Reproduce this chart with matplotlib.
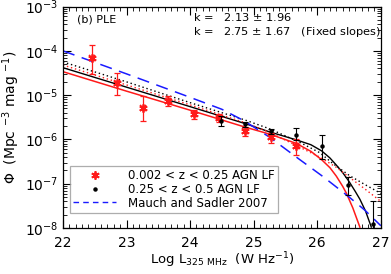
import numpy as np
import matplotlib
matplotlib.use("Agg")
import matplotlib.pyplot as plt
from matplotlib.lines import Line2D
from matplotlib.ticker import MultipleLocator, LogLocator, NullFormatter

# 0.002 < z < 0.25 AGN LF (log values)
lum_low = [22.45, 22.85, 23.26, 23.66, 24.06, 24.46, 24.87, 25.27, 25.67]
phi_low = [-4.17, -4.73, -5.28, -5.14, -5.43, -5.51, -5.81, -5.95, -6.15]
phi_low_lo = [-4.52, -4.99, -5.58, -5.25, -5.53, -5.60, -5.92, -6.07, -6.35]
phi_low_hi = [-3.87, -4.50, -5.03, -5.01, -5.34, -5.42, -5.72, -5.86, -5.98]

# 0.25 < z < 0.5 AGN LF (log values)
lum_high = [24.48, 24.87, 25.27, 25.67, 26.07, 26.48, 26.87]
phi_high = [-5.58, -5.66, -5.81, -5.90, -6.16, -7.04, -7.91]
phi_high_lo = [-5.70, -5.72, -5.87, -6.01, -6.44, -7.26, -8.50]
phi_high_hi = [-5.47, -5.60, -5.76, -5.75, -5.89, -6.85, -7.40]

# fitted curves (log phi)
fit_low_x = [22.0, 23.0, 24.0, 24.86, 25.25, 25.67, 25.9, 26.07, 26.2, 26.30, 26.40, 26.46, 26.56, 26.67]
fit_low_y = [-4.47, -4.91, -5.34, -5.72, -5.88, -6.09, -6.27, -6.46, -6.64, -6.83, -7.06, -7.22, -7.55, -7.98]
fit_high_x = [22.0, 23.0, 24.0, 24.86, 25.25, 25.67, 25.9, 26.07, 26.2, 26.30, 26.40, 26.50, 26.60, 26.67, 26.76, 26.85]
fit_high_y = [-4.38, -4.82, -5.26, -5.64, -5.83, -6.01, -6.12, -6.26, -6.42, -6.58, -6.75, -6.95, -7.18, -7.35, -7.62, -7.98]
fix_low_x = [22.0, 23.0, 24.0, 24.86, 25.25, 25.73, 26.04, 26.3, 26.51, 26.75, 27.0]
fix_low_y = [-4.32, -4.77, -5.22, -5.62, -5.84, -6.18, -6.40, -6.63, -6.86, -7.12, -7.40]
fix_high_x = [22.0, 23.0, 24.0, 24.86, 25.25, 25.73, 26.04, 26.25, 26.51, 26.75, 27.0]
fix_high_y = [-4.25, -4.70, -5.17, -5.56, -5.76, -6.07, -6.30, -6.55, -6.82, -7.02, -7.22]
ms07_x = [22.0, 23.0, 24.0, 24.5, 24.85, 25.25, 25.7, 26.1, 26.5, 26.75, 27.0]
ms07_y = [-4.00, -4.52, -5.05, -5.32, -5.58, -5.95, -6.43, -6.85, -7.30, -7.60, -7.95]

RED = '#ff1a1a'
BLUE = '#1a1aff'

plt.rcParams['font.family'] = ['DejaVu Sans']

fig = plt.figure(figsize=(3.91, 2.74), dpi=100)
ax = fig.add_axes([0.161, 0.168, 0.813, 0.808])

def p(v):
    return 10.0 ** np.asarray(v)

# curves
ax.plot(fit_low_x, p(fit_low_y), color=RED, lw=1.1)
ax.plot(fit_high_x, p(fit_high_y), color='black', lw=1.0)
ax.plot(fix_low_x, p(fix_low_y), color=RED, lw=1.0, ls=(0, (1, 2)))
ax.plot(fix_high_x, p(fix_high_y), color='black', lw=1.0, ls=(0, (1, 2)))
ax.plot(ms07_x, p(ms07_y), color=BLUE, lw=1.1, ls=(0, (8, 5)))

# data points
y = p(phi_low)
ax.errorbar(lum_low, y, yerr=[y - p(phi_low_lo), p(phi_low_hi) - y],
            fmt='none', ecolor=RED, elinewidth=0.9, capsize=2.5, capthick=0.9)
ax.plot(lum_low, y, ls='none', marker=(6, 2, 0), ms=6, mew=1.3, color=RED)
ax.plot(lum_low, y, ls='none', marker='x', ms=4, mew=1.2, color=RED)

y = p(phi_high)
ax.errorbar(lum_high, y, yerr=[y - p(phi_high_lo), p(phi_high_hi) - y],
            fmt='o', color='black', ms=2.2, ecolor='black', elinewidth=0.8,
            capsize=2.5, capthick=0.8)

ax.set_xlim(22, 27)
ax.set_yscale('log')
ax.set_ylim(1e-8, 1e-3)
ax.xaxis.set_major_locator(MultipleLocator(1))
ax.xaxis.set_minor_locator(MultipleLocator(0.1))
ax.yaxis.set_major_locator(LogLocator(base=10, numticks=10))
ax.yaxis.set_minor_locator(LogLocator(base=10, subs=np.arange(2, 10), numticks=10))
ax.yaxis.set_minor_formatter(NullFormatter())
ax.tick_params(which='both', direction='in', top=True, right=True, labelsize=10)
ax.tick_params(which='major', length=6, width=0.8)
ax.tick_params(which='minor', length=3, width=0.6)
ax.tick_params(axis='x', pad=6)
for s in ax.spines.values():
    s.set_linewidth(0.9)

ax.set_xlabel(r'Log L$_{\rm 325\ MHz}$  (W Hz$^{-1}$)', fontsize=9.5, labelpad=0)
ax.set_ylabel(r'$\Phi$  (Mpc $^{-3}$ mag $^{-1}$)', fontsize=10, labelpad=2)

ax.text(0.045, 0.965, '(b) PLE', transform=ax.transAxes, fontsize=8, va='top')
ax.text(0.41, 0.978, 'k =   2.13 $\\pm$ 1.96', transform=ax.transAxes, fontsize=8.2, va='top')
ax.text(0.41, 0.918, 'k =   2.75 $\\pm$ 1.67   (Fixed slopes)', transform=ax.transAxes,
        fontsize=8.2, va='top')

handles = [
    Line2D([], [], ls='none', marker=(6, 2, 0), ms=6, mew=1.3, color=RED),
    Line2D([], [], ls='none', marker='o', ms=2.2, color='black'),
    Line2D([], [], color=BLUE, lw=1.0, ls=(0, (4, 3))),
]
labels = ['0.002 < z < 0.25 AGN LF', '0.25 < z < 0.5 AGN LF', 'Mauch and Sadler 2007']
leg = ax.legend(handles, labels, loc='lower left', bbox_to_anchor=(0.022, 0.067),
                fontsize=8.5, frameon=True, fancybox=False, handlelength=3.6,
                handletextpad=1.0, labelspacing=0.05, borderpad=0.3, borderaxespad=0)
leg.get_frame().set_edgecolor('#999999')
leg.get_frame().set_linewidth(0.9)

fig.savefig('out.png', dpi=100)
